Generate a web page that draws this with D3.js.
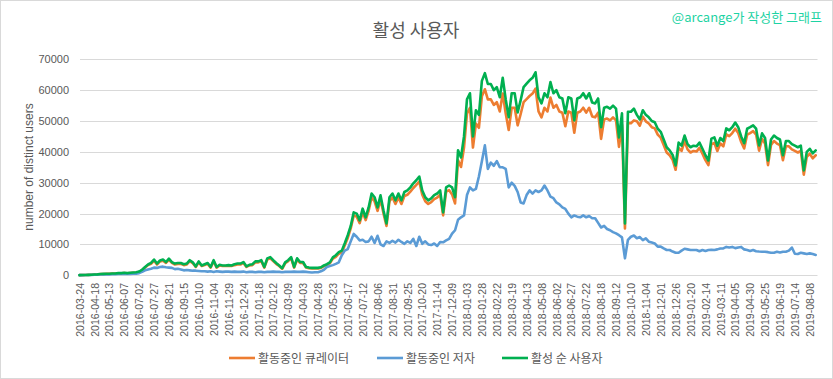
<!DOCTYPE html>
<html><head><meta charset="utf-8">
<script src="https://cdn.jsdelivr.net/npm/d3@7"></script>
<style>body{margin:0;background:#fff;} svg{display:block;}</style>
</head><body>
<svg id="c" width="833" height="379"></svg>
<script>
const title = "활성 사용자";
const watermark = "@arcange가 작성한 그래프";
const yTitle = "number of distinct users";
const tickLabels = ["2016-03-24","2016-04-18","2016-05-13","2016-06-07","2016-07-02","2016-07-27","2016-08-21","2016-09-15","2016-10-10","2016-11-04","2016-11-29","2016-12-24","2017-01-18","2017-02-12","2017-03-09","2017-04-03","2017-04-28","2017-05-23","2017-06-17","2017-07-12","2017-08-06","2017-08-31","2017-09-25","2017-10-20","2017-11-14","2017-12-09","2018-01-03","2018-01-28","2018-02-22","2018-03-19","2018-04-13","2018-05-08","2018-06-02","2018-06-27","2018-07-22","2018-08-18","2018-09-12","2018-10-10","2018-11-04","2018-12-01","2018-12-26","2019-01-20","2019-02-14","2019-03-11","2019-04-05","2019-04-30","2019-05-25","2019-06-19","2019-07-14","2019-08-08"];
const daysPerTick = 25;
const daysPerPoint = 5;
const totalDays = 1238;
const yTicks = [0,10000,20000,30000,40000,50000,60000,70000];
const seriesNames = ["활동중인 큐레이터","활동중인 저자","활성 순 사용자"];
const seriesColors = ["#ED7D31","#5B9BD5","#00B050"];

const curators = [
50,70,90,140,190,230,280,370,420,460,
460,560,560,650,650,740,650,740,840,930,
1100,1700,2500,3300,3700,4700,3500,4500,4700,4000,
5000,4000,3500,3700,3700,3300,3500,4600,3900,2700,
4200,3000,3300,3700,2500,4600,2500,3200,3000,3000,
3100,3000,3300,3500,3500,4000,2700,3200,3300,4200,
4200,4600,2500,5100,5500,4600,3700,3000,2100,3900,
4600,5500,2500,5100,4000,4000,2500,2300,2200,2200,
2200,2400,3000,3300,3900,5400,6000,7000,7400,9700,
12100,15200,19400,19000,16900,20500,17900,20900,25200,24000,
20900,24600,20000,16000,24000,25200,23100,25200,23100,25700,
26100,27100,28300,29300,30400,26100,24000,23100,23700,24700,
25200,26100,19400,27100,27600,26200,23300,37300,35100,41400,
52400,54300,41400,49200,47800,58000,60300,57000,57000,55200,
56100,53100,58900,52400,47100,54300,54300,48600,52200,56100,
57100,58100,58900,60500,53100,51200,54300,53100,57600,54300,
55200,53100,52700,48300,53100,52700,46200,52700,53100,54300,
52700,54300,51500,51200,52700,44200,50500,50800,50200,51200,
50200,41600,48800,15200,49300,49300,50200,49900,48500,51400,
49900,49200,48000,47600,45600,44600,42200,39800,38900,37400,
34200,41300,40300,43500,40800,39800,40300,40100,41300,39400,
37300,35700,42500,42900,40300,42700,41800,45700,45100,46100,
47500,46100,43200,41100,45600,46100,46700,45600,40400,44200,
42700,35700,42200,43500,42700,42200,37300,41800,41800,40800,
40300,39800,40300,32600,38400,39400,37900,38900];

const authors = [
50,70,90,120,150,180,200,250,280,300,
300,350,350,400,400,450,400,450,500,550,
700,1100,1600,1900,2100,2500,2400,2700,2800,2600,
2500,2400,2000,2100,1900,1600,1700,1600,1500,1500,
1400,1300,1300,1200,1300,1100,1300,1200,1100,1200,
1200,1100,1200,1100,1100,1200,1000,1100,1100,1000,
1100,1100,1000,1100,1100,1200,1100,1100,1000,1100,
1100,1100,1200,1100,1100,1200,1100,1000,900,1000,
1000,1300,1800,2700,3000,3300,3700,4200,6500,8000,
8500,11000,13400,12500,11300,11500,10800,11000,12500,10500,
12800,10000,9500,11000,10500,11200,10600,11500,10800,10200,
11000,10500,11800,9500,12500,10200,11000,10000,9800,10300,
9500,10800,10700,11300,11800,13500,14600,18000,18800,19400,
26000,28500,27500,28000,32000,37000,42100,34500,36500,35500,
37000,35000,35000,34500,28500,30000,29000,27000,23600,23300,
26000,27500,26500,27500,27000,27500,29100,27500,25500,25000,
23600,23000,22000,21500,20000,18800,19400,19000,18800,19400,
18800,19200,18500,18500,17000,15500,16000,15000,14600,14000,
13600,13000,12300,5500,11500,12500,12900,12000,12400,11400,
12000,10900,10600,10300,9300,9300,8700,8200,8200,7700,
7300,7300,8000,8600,8400,8200,8200,8200,7800,8200,
7900,8200,8300,8200,8400,8700,8700,9200,9000,9200,
8800,9000,9200,8400,8200,7900,8200,7800,7700,7650,
7650,7500,7300,7300,7600,7400,7650,7650,8000,9000,
7000,6900,7300,7100,6900,7100,6900,6600];

const uniqueUsers = [
50,80,100,150,200,250,300,400,450,500,
500,600,600,700,700,800,700,800,900,1000,
1200,1800,2700,3500,4000,5100,3800,4800,5100,4300,
5400,4300,3800,4000,4000,3600,3800,4900,4200,2900,
4500,3200,3600,4000,2700,4900,2700,3400,3200,3200,
3300,3200,3600,3800,3800,4300,2900,3400,3600,4500,
4500,4900,2700,5500,5900,4900,4000,3200,2300,4200,
4900,5900,2700,5500,4300,4300,2700,2500,2400,2400,
2400,2600,3200,3600,4200,5800,6500,7500,8000,10400,
13000,16000,20400,20000,17800,21600,18800,22000,26500,25300,
22000,25900,21000,16800,25300,26500,24300,26500,24300,27000,
27500,28500,29800,30800,32000,27500,25300,24300,24900,26000,
26500,27500,20400,28500,29100,28500,25300,40500,38200,45000,
57000,59000,45000,53500,52000,63000,65500,62000,62000,60000,
61000,57700,64000,57000,51200,59000,59000,52800,56700,61000,
62100,63200,64000,65800,57700,55700,59000,57700,62600,59000,
60000,57700,57300,52500,57700,57300,50200,57300,57700,59000,
57300,59000,56000,55700,57300,48000,54300,54600,54000,55000,
54000,44700,52500,16800,53000,53000,54000,52000,50500,53500,
52000,51200,50000,49600,47500,46500,44000,41500,40500,39000,
35600,43000,42000,45300,42500,41500,42000,41800,43000,41000,
38900,37200,44300,44700,42000,44500,43500,47600,47000,48000,
49500,48000,45000,42800,47500,48000,48600,47500,42100,46000,
44500,37200,44000,45300,44500,44000,38900,43500,43500,42500,
42000,41500,42000,34000,40000,41000,39500,40500];

const series = [curators, authors, uniqueUsers];

const svg = d3.select("#c");
const latin = "'Liberation Sans', Arial, sans-serif";
const kr = "'Noto Sans CJK KR', 'Noto Sans', sans-serif";
const textCol = "#595959";

svg.append("rect").attr("x",0.5).attr("y",0.5).attr("width",832).attr("height",378)
  .attr("fill","#fff").attr("stroke","#D9D9D9");

const x = d3.scaleLinear().domain([0,totalDays]).range([79.5,817.5]);
const y = d3.scaleLinear().domain([0,70000]).range([275.3,59.3]);

// gridlines
svg.append("g").selectAll("line").data(yTicks).join("line")
  .attr("x1",80).attr("x2",817.5)
  .attr("y1",d=>Math.round(y(d))+0.5).attr("y2",d=>Math.round(y(d))+0.5)
  .attr("stroke","#D9D9D9").attr("stroke-width",1);

// y axis
const gy = svg.append("g").attr("transform","translate(69,0)")
  .call(d3.axisLeft(y).tickValues(yTicks).tickFormat(d3.format("d")).tickSize(0).tickPadding(0));
gy.select(".domain").remove();
gy.selectAll("text").attr("font-family",latin).attr("font-size",11).attr("fill",textCol);

// x axis
const gx = svg.append("g").attr("transform","translate(0,275)")
  .call(d3.axisBottom(x).tickValues(tickLabels.map((_,k)=>k*daysPerTick))
    .tickFormat((d,k)=>tickLabels[k]).tickSize(0));
gx.select(".domain").remove();
gx.selectAll("text").attr("transform","rotate(-90)").attr("text-anchor","end")
  .attr("x",-8).attr("y",0).attr("dy","0.35em")
  .attr("font-family",latin).attr("font-size",10.5).attr("fill",textCol);

// lines
const line = d3.line().x((d,i)=>x(i*daysPerPoint)).y(d=>y(d));
series.forEach((s,k)=>{
  svg.append("path").datum(s).attr("d",line).attr("fill","none")
    .attr("stroke",seriesColors[k]).attr("stroke-width",2.6)
    .attr("stroke-linejoin","round").attr("stroke-linecap","round");
});

// titles
svg.append("text").attr("x",416).attr("y",37).attr("text-anchor","middle")
  .attr("font-family",kr).attr("font-size",18).attr("fill",textCol).text(title);
svg.append("text").attr("x",822).attr("y",22).attr("text-anchor","end")
  .attr("font-family",kr).attr("font-size",13).attr("fill","#1ED3A3").text(watermark);
svg.append("text").attr("transform","translate(33,167) rotate(-90)").attr("text-anchor","middle")
  .attr("font-family",latin).attr("font-size",12).attr("fill",textCol).text(yTitle);

// legend
const legX = [229,377,502];
seriesNames.forEach((n,k)=>{
  svg.append("line").attr("x1",legX[k]).attr("x2",legX[k]+26).attr("y1",358).attr("y2",358)
    .attr("stroke",seriesColors[k]).attr("stroke-width",2.6);
  svg.append("text").attr("x",legX[k]+29).attr("y",362.5)
    .attr("font-family",kr).attr("font-size",12).attr("fill",textCol).text(n);
});
</script>
</body></html>
